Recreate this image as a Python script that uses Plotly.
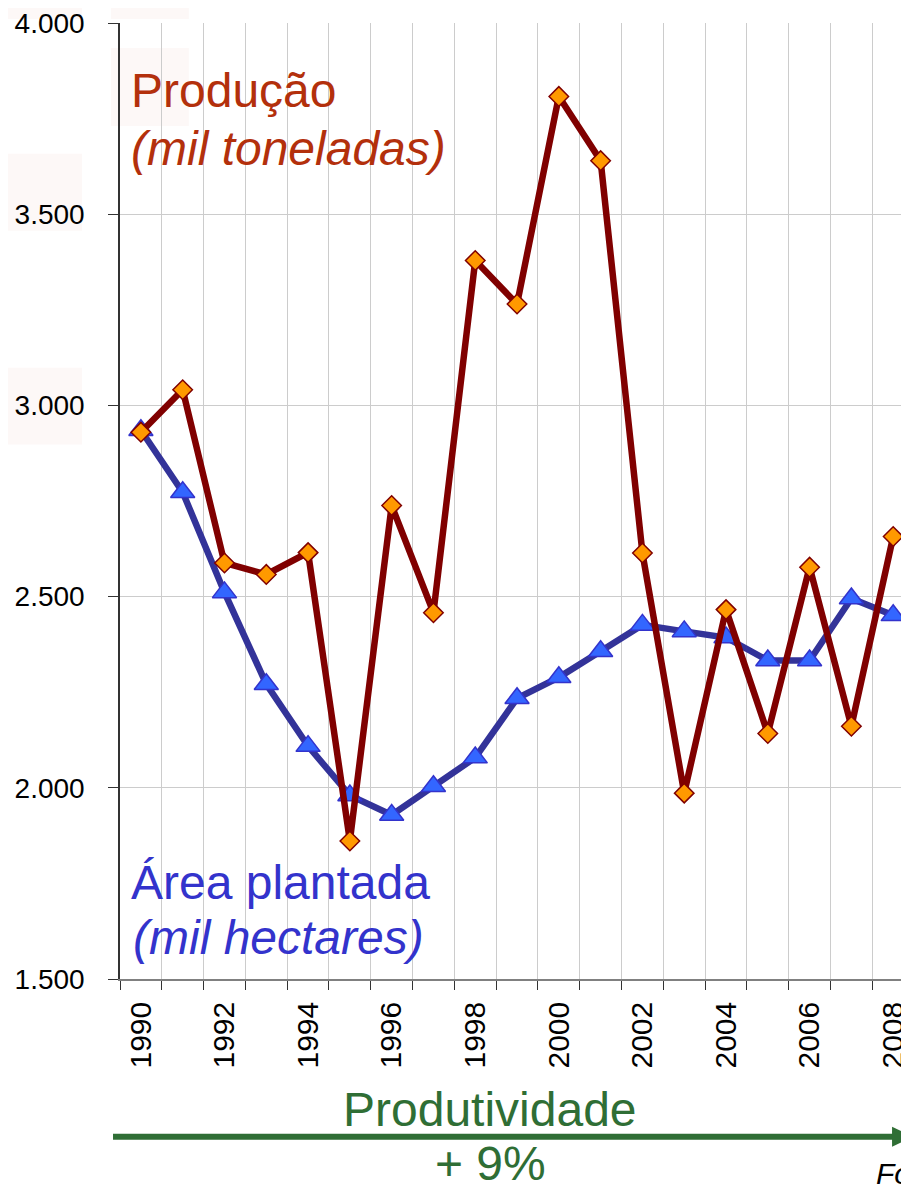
import plotly.graph_objects as go

# ---- data ----
years = list(range(1990, 2009))
producao = [2930, 3041, 2588, 2558, 2615, 1861, 2738, 2458, 3379, 3265,
            3808, 3640, 2614, 1986, 2466, 2142, 2577, 2161, 2657]
area_plantada = [2935, 2773, 2511, 2271, 2109, 1980, 1929, 2004, 2079, 2234,
                 2289, 2357, 2426, 2409, 2393, 2333, 2333, 2495, 2451]
y_ticks = [1500, 2000, 2500, 3000, 3500, 4000]
y_tick_text = ["1.500", "2.000", "2.500", "3.000", "3.500", "4.000"]
label_years = [y for y in years if y % 2 == 0]

# ---- layout geometry (pixels) ----
# the page body has an 8px margin, so the figure is drawn 8px smaller
OFF = 8
W, H = 909 - OFF, 1186 - OFF
L, R, T, B = 112, 0, 14, 207
PW, PH = W - L - R, H - T - B
cat_w = 41.9
x_idx = list(range(len(years)))
x_end = -0.5 + PW / cat_w

PLOT_LEFT = OFF + L          # page px
PLOT_BOTTOM = OFF + H - B    # page px


def px(x):
    return (x - PLOT_LEFT) / PW


def py(y):
    return (PLOT_BOTTOM - y) / PH


FONT = "Liberation Sans, Arial, sans-serif"

fig = go.Figure()
fig.add_trace(go.Scatter(
    x=x_idx, y=area_plantada, mode="lines+markers",
    line=dict(color="#333399", width=6.5),
    marker=dict(symbol="triangle-up", size=21, color="#3366FF",
                line=dict(color="#3333CC", width=1.5)),
    cliponaxis=False, showlegend=False))
fig.add_trace(go.Scatter(
    x=x_idx, y=producao, mode="lines+markers",
    line=dict(color="#800000", width=6.5),
    marker=dict(symbol="diamond", size=15, color="#FF9900",
                line=dict(color="#800000", width=1.5)),
    cliponaxis=False, showlegend=False))

fig.update_layout(
    width=W, height=H,
    margin=dict(l=L, r=R, t=T, b=B),
    paper_bgcolor="white", plot_bgcolor="white",
    font=dict(family=FONT, color="black"),
    xaxis=dict(
        range=[-0.5, x_end],
        tickmode="array",
        tickvals=[years.index(y) for y in label_years],
        ticktext=[str(y) for y in label_years],
        tickangle=-90,
        tickfont=dict(size=30, family=FONT, color="black"),
        ticks="",
        ticklabelstandoff=9,
        ticklabeloverflow="allow",
        showgrid=False,
        zeroline=False,
        showline=True, linecolor="#808080", linewidth=1.5,
        minor=dict(tick0=-0.5, dtick=1, showgrid=True, gridcolor="#CCCCCC",
                   gridwidth=1, ticks="outside", ticklen=9,
                   tickcolor="#333333", tickwidth=1.2),
    ),
    yaxis=dict(
        range=[1500, 4000],
        tickmode="array", tickvals=y_ticks, ticktext=y_tick_text,
        tickfont=dict(size=28, family=FONT, color="black"),
        ticks="outside", ticklen=10, tickcolor="#333333", tickwidth=1.2,
        ticklabelstandoff=18,
        ticklabeloverflow="allow",
        showgrid=True, gridcolor="#CCCCCC", gridwidth=1,
        zeroline=False,
        showline=True, linecolor="#333333", linewidth=1.5,
    ),
)

# faint background boxes (artifacts in the original slide)
for (x0, y0, x1, y1) in [(3, 0, 82, 18), (111, 0, 189, 18), (111, 47, 189, 125),
                         (3, 153, 82, 230), (3, 367, 82, 444)]:
    fig.add_shape(type="rect", xref="paper", yref="paper",
                  x0=px(x0), x1=px(x1), y0=py(y1), y1=py(y0),
                  fillcolor="#FDF8F7", line=dict(width=0), layer="below")

RED = "#B3300C"
BLUE = "#3333CC"
GREEN = "#2F6E35"


def ann(text, x, y, size, color, xanchor="left", italic=False):
    fig.add_annotation(
        text=text, xref="paper", yref="paper", x=px(x), y=py(y),
        xanchor=xanchor, yanchor="middle", showarrow=False,
        font=dict(family=FONT, size=size, color=color,
                  style="italic" if italic else "normal"))


ann("Produção", 129, 90, 48, RED)
ann("(mil toneladas)", 129, 148, 48, RED, italic=True)
ann("Área plantada", 129, 882, 48, BLUE)
ann("(mil hectares)", 131, 937, 48, BLUE, italic=True)
ann("Produtividade", 491, 1110, 48, GREEN, xanchor="center")
ann("+ 9%", 491, 1164, 48, GREEN, xanchor="center")
ann("Fonte: IBGE", 876, 1174, 30, "black", italic=True)

# productivity arrow
fig.add_shape(type="line", xref="paper", yref="paper",
              x0=px(113), x1=px(897), y0=py(1137), y1=py(1137),
              line=dict(color=GREEN, width=6))
fig.add_shape(type="path", xref="paper", yref="paper",
              path=f"M {px(894)},{py(1127)} L {px(915)},{py(1137)} L {px(894)},{py(1147)} Z",
              fillcolor=GREEN, line=dict(width=0))

fig.write_html("out.html")
